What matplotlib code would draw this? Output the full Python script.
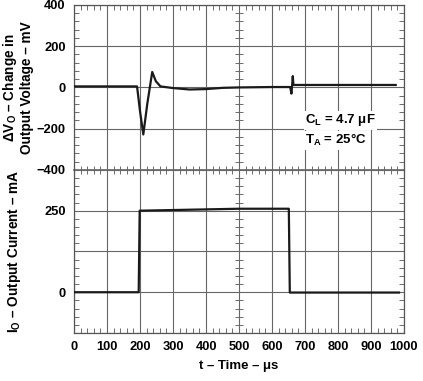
import matplotlib
matplotlib.use('Agg')
import matplotlib.pyplot as plt
from matplotlib.ticker import MultipleLocator, FixedLocator

plt.rcParams['font.family'] = ['Liberation Sans', 'DejaVu Sans']
plt.rcParams['font.weight'] = 'bold'
plt.rcParams['axes.labelweight'] = 'bold'
plt.rcParams['mathtext.fontset'] = 'custom'
plt.rcParams['mathtext.bf'] = 'Liberation Sans:bold'
plt.rcParams['mathtext.rm'] = 'Liberation Sans:bold'
plt.rcParams['mathtext.default'] = 'bf'

# output voltage change (mV) vs time (us)
t_vo = [0, 191, 200, 210, 222, 237, 248, 262, 300, 350, 400, 450, 500, 600,
        655, 659, 661, 663, 665, 700, 800, 900, 975]
vo = [5, 5, -115, -228, -80, 75, 30, 5, -3, -10, -8, -2, 0, 2,
      2, -30, 10, 55, 12, 12, 12, 12, 12]

# output current (mA) vs time (us)
t_io = [0, 196, 199, 300, 400, 500, 651, 654, 985]
io = [0, 0, 250, 252, 254, 256, 256, -1, -1]

x_ticks = [0, 100, 200, 300, 400, 500, 600, 700, 800, 900, 1000]
vo_ticks = [-400, -200, 0, 200, 400]
io_ticks = [-125, 0, 125, 250, 375]
io_labels = ['', '0', '', '250', '']

grid_c = '#666666'
frame_c = '#555555'

fig = plt.figure(figsize=(4.23, 3.81), dpi=100)
ax1 = fig.add_axes([0.175, 0.554, 0.780, 0.433])
ax2 = fig.add_axes([0.175, 0.126, 0.780, 0.428], sharex=ax1)

for ax in (ax1, ax2):
    ax.set_facecolor('none')
    ax.grid(True, which='major', color=grid_c, linewidth=0.8)
    ax.set_axisbelow(True)
    for s in ax.spines.values():
        s.set_color(frame_c)
        s.set_linewidth(0.9)
    ax.xaxis.set_major_locator(FixedLocator(x_ticks))
    ax.xaxis.set_minor_locator(MultipleLocator(20))
    ax.tick_params(which='major', length=0, labelsize=9.3, pad=6)
    ax.tick_params(which='minor', direction='in', length=3.5, width=0.6,
                   color=frame_c, left=True, right=True)

ax1.plot(t_vo, vo, color='#1a1a1a', linewidth=1.6, zorder=3)
ax1.set_xlim(0, 1000)
ax1.set_ylim(-400, 400)
ax1.set_yticks(vo_ticks)
ax1.set_yticklabels(['\u2212400', '\u2212200', '0', '200', '400'])
ax1.yaxis.set_minor_locator(MultipleLocator(40))
ax1.tick_params(axis='x', which='both', labelbottom=False, bottom=False, top=True)
ax1.spines['bottom'].set_visible(False)
ax1.set_ylabel('\u0394V$_O$ \u2013 Change in\nOutput Voltage \u2013 mV',
               fontsize=9.8, linespacing=1.1)
ax1.yaxis.set_label_coords(-0.122, 0.5)
ax1.text(700, -160, 'C$_L$ = 4.7 \u03bcF', fontsize=9.5, va='center',
         bbox=dict(facecolor='white', edgecolor='none', pad=1))
ax1.text(700, -255, 'T$_A$ = 25\u00b0C', fontsize=9.5, va='center',
         bbox=dict(facecolor='white', edgecolor='none', pad=1))

ax2.plot(t_io, io, color='#1a1a1a', linewidth=1.6, zorder=3)
ax2.set_ylim(-125, 375)
ax2.set_yticks(io_ticks)
ax2.set_yticklabels(io_labels)
ax2.yaxis.set_minor_locator(MultipleLocator(25))
ax2.tick_params(axis='x', which='minor', bottom=True, top=False)
ax2.spines['top'].set_visible(False)
ax2.set_xticklabels([str(v) for v in x_ticks])
ax2.set_xlabel('t \u2013 Time \u2013 \u03bcs', fontsize=9.5, labelpad=5)
ax2.set_ylabel('I$_O$ \u2013 Output Current \u2013 mA', fontsize=9.8)
ax2.yaxis.set_label_coords(-0.155, 0.5)

# centre graticule: ticks crossing the panel boundary and the t = 500 line
sx = ax1.secondary_xaxis(0)
sx.xaxis.set_major_locator(FixedLocator(x_ticks))
sx.xaxis.set_minor_locator(MultipleLocator(20))
sx.tick_params(which='major', length=0, labelbottom=False)
sx.tick_params(which='minor', direction='inout', length=6, width=0.6, color=frame_c)
sx.spines['bottom'].set_color(grid_c)
sx.spines['bottom'].set_linewidth(1.2)

for ax, major, minor in ((ax1, 200, 40), (ax2, 125, 25)):
    sy = ax.secondary_yaxis(0.5)
    sy.yaxis.set_major_locator(MultipleLocator(major))
    sy.yaxis.set_minor_locator(MultipleLocator(minor))
    sy.tick_params(which='major', length=0, labelleft=False, labelright=False)
    sy.tick_params(which='minor', direction='inout', length=6, width=0.6, color=frame_c)
    for s in sy.spines.values():
        s.set_visible(False)

fig.savefig('out.png', dpi=100)
